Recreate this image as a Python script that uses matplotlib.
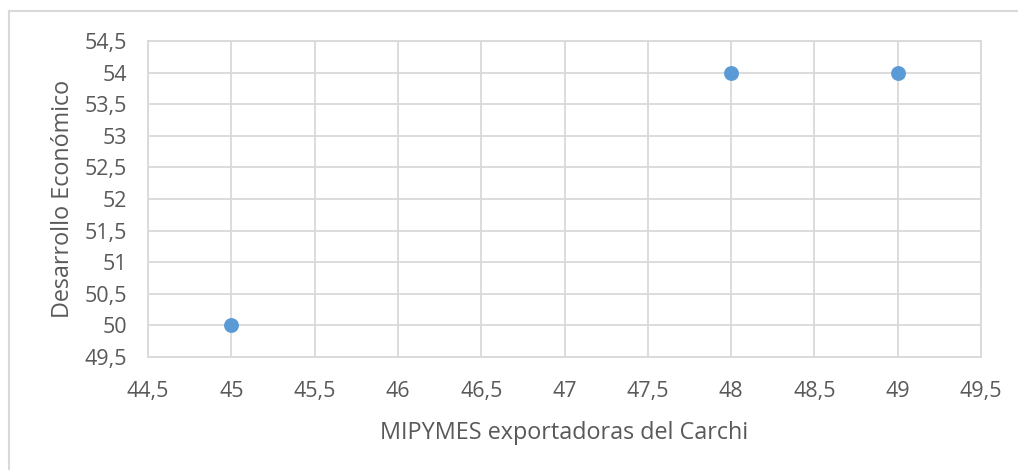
import matplotlib.pyplot as plt
from matplotlib.lines import Line2D
from matplotlib.ticker import FuncFormatter, MultipleLocator

# datos del grafico de dispersion
mipymes = [45, 48, 49]
desarrollo = [50, 54, 54]

x_label = "MIPYMES exportadoras del Carchi"
y_label = "Desarrollo Económico"

plt.rcParams['font.family'] = ['Open Sans', 'DejaVu Sans']

fig = plt.figure(figsize=(10.18, 4.70), dpi=100)
ax = fig.add_axes([0.1454, 0.2404, 0.8183, 0.6724])

grid_col = '#d9d9d9'
text_col = '#595959'

ax.scatter(mipymes, desarrollo, s=115, color='#5b9bd5', zorder=3, linewidths=0)

ax.set_xlim(44.5, 49.5)
ax.set_ylim(49.5, 54.5)
ax.xaxis.set_major_locator(MultipleLocator(0.5))
ax.yaxis.set_major_locator(MultipleLocator(0.5))

# coma decimal como en el original
fmt = FuncFormatter(lambda v, p: ('%g' % v).replace('.', ','))
ax.xaxis.set_major_formatter(fmt)
ax.yaxis.set_major_formatter(fmt)

ax.grid(True, color=grid_col, linewidth=1.3)
ax.set_axisbelow(True)
for s in ax.spines.values():
    s.set_color(grid_col)
    s.set_linewidth(1.3)
ax.tick_params(length=0, labelsize=15.5, colors=text_col)
ax.tick_params(axis='x', pad=17)
ax.tick_params(axis='y', pad=15)

ax.set_xlabel(x_label, fontsize=16.8, color=text_col, labelpad=14)
ax.set_ylabel(y_label, fontsize=16.8, color=text_col, labelpad=7)

# borde del area del grafico (solo izquierda y arriba visibles)
fig.add_artist(Line2D([0.009, 0.009], [0, 0.977], transform=fig.transFigure,
                      color=grid_col, linewidth=1.5))
fig.add_artist(Line2D([0.009, 1.0], [0.977, 0.977], transform=fig.transFigure,
                      color=grid_col, linewidth=1.5))

fig.savefig('out.png', dpi=100)
